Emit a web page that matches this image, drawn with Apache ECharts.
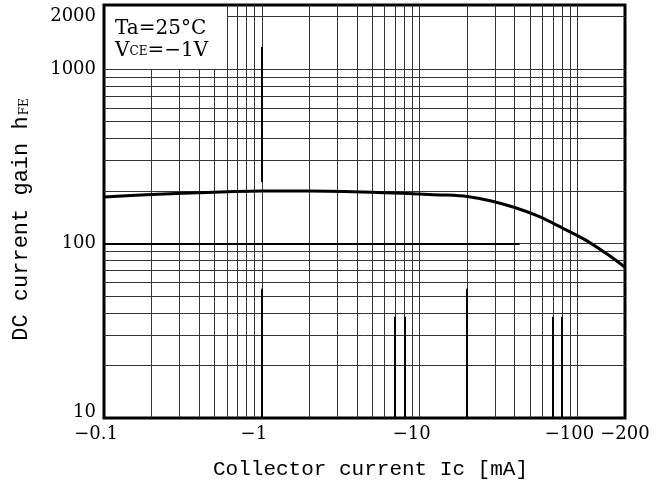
<!DOCTYPE html>
<html>
<head>
<meta charset="utf-8">
<script src="https://cdn.jsdelivr.net/npm/echarts@6/dist/echarts.min.js"></script>
<style>
html,body{margin:0;padding:0;background:#fff;}
#chart{width:671px;height:494px;}
</style>
</head>
<body>
<div id="chart"></div>
<script>
// ---- data ----
const collectorCurrent = [0.1, 0.2, 0.5, 1, 2, 5, 10, 14, 20, 28, 40, 56, 80, 112, 160, 200]; // |Ic| mA
const hfeValues        = [185, 191, 197, 200, 200, 197, 192, 190, 186, 176, 161, 144, 123, 105, 85, 73];

const xTickValues = [0.1, 1, 10, 100, 200];
const xTickLabels = ['−0.1', '−1', '−10', '−100', '−200'];
const yTickValues = [10, 100, 1000, 2000];
const yTickLabels = ['10', '100', '1000', '2000'];

// grid lines (data units)
const xGridFull = [0.6, 0.7, 0.8, 0.9, 1, 2, 3, 4, 5, 6, 7, 8, 9, 10, 20, 30, 40, 50, 60, 70, 80, 90, 100];
const xGridBelow1000 = [0.2, 0.3, 0.4, 0.5];
const yGridFull = [20, 30, 40, 50, 60, 70, 80, 90, 100, 200, 300, 400, 500, 600, 700, 800, 900, 1000];
const yGridPartial = [[[0.6, 2000], [200, 2000]]];
const heavySegments = [
  [[1, 225], [1, 1340]],
  [[1, 10], [1, 55]],
  [[20, 10], [20, 55]],
  [[7, 10], [7, 38]],
  [[8, 10], [8, 38]],
  [[70, 10], [70, 38]],
  [[80, 10], [80, 38]],
  [[0.1, 100], [43, 100]]
];

const X_MIN = 0.1, X_MAX = 200, Y_MIN = 10, Y_MAX = 2330;

const numFont = 'DejaVu Serif';
const monoFont = 'Liberation Mono';

const gridLineData = [];
xGridFull.forEach(v => gridLineData.push({ xAxis: v }));
yGridFull.forEach(v => gridLineData.push({ yAxis: v }));
xGridBelow1000.forEach(v => gridLineData.push([{ coord: [v, Y_MIN] }, { coord: [v, 1000] }]));
yGridPartial.forEach(s => gridLineData.push([{ coord: s[0] }, { coord: s[1] }]));

const heavyData = heavySegments.map(s => [{ coord: s[0] }, { coord: s[1] }]);

const chart = echarts.init(document.getElementById('chart'), null, { renderer: 'canvas' });

chart.setOption({
  animation: false,
  backgroundColor: '#fff',
  grid: { left: 104, right: 46, top: 5, bottom: 76, show: true, borderColor: '#000', borderWidth: 3, backgroundColor: 'transparent', z: 5 },
  xAxis: {
    type: 'log', logBase: 10, min: X_MIN, max: X_MAX,
    axisLine: { show: false }, axisTick: { show: false }, splitLine: { show: false }, minorTick: { show: false },
    axisLabel: {
      customValues: xTickValues,
      margin: 7,
      color: '#000',
      fontFamily: numFont, fontSize: 18,
      formatter: function (v) {
        const i = xTickValues.findIndex(t => Math.abs(t - v) / t < 1e-6);
        const txt = i >= 0 ? xTickLabels[i] : '';
        return i === xTickValues.length - 1 ? '{b|' + txt + '}' : '{a|' + txt + '}';
      },
      rich: {
        a: { fontFamily: numFont, fontSize: 18, color: '#000', padding: [0, 16, 0, 0] },
        b: { fontFamily: numFont, fontSize: 18, color: '#000' }
      }
    },
    name: 'Collector current Ic [mA]',
    nameLocation: 'middle', nameGap: 41,
    nameTextStyle: { fontFamily: monoFont, fontSize: 21, color: '#000', padding: [0, 0, 0, 12] }
  },
  yAxis: {
    type: 'log', logBase: 10, min: Y_MIN, max: Y_MAX,
    axisLine: { show: false }, axisTick: { show: false }, splitLine: { show: false }, minorTick: { show: false },
    axisLabel: {
      customValues: yTickValues,
      margin: 8,
      color: '#000',
      fontFamily: numFont, fontSize: 18,
      formatter: function (v) {
        const i = yTickValues.findIndex(t => Math.abs(t - v) / t < 1e-6);
        const txt = i >= 0 ? yTickLabels[i] : '';
        return i === 0 ? '{b|' + txt + '}' : '{a|' + txt + '}';
      },
      rich: {
        a: { fontFamily: numFont, fontSize: 18, color: '#000' },
        b: { fontFamily: numFont, fontSize: 18, color: '#000', padding: [0, 0, 12, 0] }
      }
    },
    name: 'DC current gain h{s|FE}',
    nameLocation: 'middle', nameGap: 72, nameRotate: 90,
    nameTextStyle: {
      fontFamily: monoFont, fontSize: 22, color: '#000', padding: [0, 16, 0, 0],
      rich: { s: { fontFamily: numFont, fontSize: 12, color: '#000', verticalAlign: 'bottom', padding: [0, 0, 1, 1] } }
    }
  },
  graphic: [
    { type: 'rect', shape: { x: 106, y: 7, width: 121, height: 61 }, style: { fill: '#fff' }, z: 50 },
    { type: 'text', left: 115, top: 19, z: 60,
      style: { text: 'Ta=25°C', font: '20px "DejaVu Serif"', fill: '#000' } },
    { type: 'text', left: 115, top: 41, z: 60,
      style: { text: 'V{s|CE}=−1V', font: '20px "DejaVu Serif"', fill: '#000',
        rich: { s: { font: '12px "DejaVu Serif"', fill: '#000', verticalAlign: 'bottom', padding: [0, 0, 3, 0] } } } }
  ],
  series: [
    {
      type: 'line', data: [], silent: true, z: 2,
      markLine: {
        silent: true, symbol: ['none', 'none'], animation: false,
        label: { show: false },
        lineStyle: { color: '#333', width: 1, type: 'solid' },
        emphasis: { disabled: true },
        data: gridLineData
      }
    },
    {
      type: 'line', data: [], silent: true, z: 3,
      markLine: {
        silent: true, symbol: ['none', 'none'], animation: false,
        label: { show: false },
        lineStyle: { color: '#000', width: 2, type: 'solid' },
        emphasis: { disabled: true },
        data: heavyData
      }
    },
    {
      type: 'line', z: 10, smooth: 0.3, showSymbol: false, silent: true,
      data: collectorCurrent.map((x, i) => [x, hfeValues[i]]),
      lineStyle: { color: '#000', width: 3 }
    }
  ]
});
</script>
</body>
</html>
